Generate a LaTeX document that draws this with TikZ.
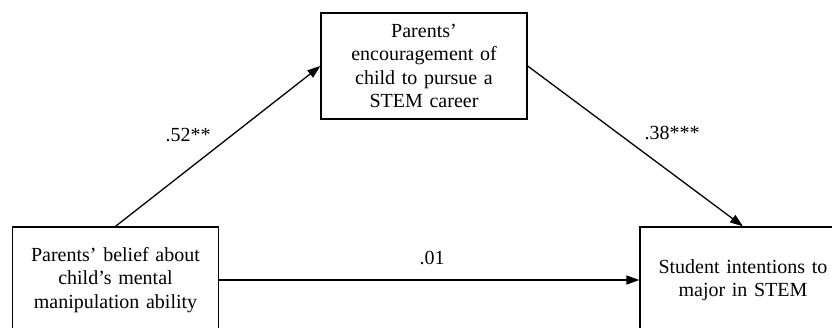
\documentclass[tikz,border=0pt]{standalone}
\usepackage{fontspec}
\setmainfont{Liberation Serif}
\usetikzlibrary{arrows.meta}

\begin{document}
\begin{tikzpicture}[x=1pt,y=-1pt,
  varbox/.style={draw,line width=1.3pt,minimum width=206pt,minimum height=106pt,
    text width=196pt,align=center,inner sep=0pt,font=\fontsize{20}{23.6}\selectfont},
  path/.style={line width=1.3pt,-{Triangle[length=13pt,width=9pt]}},
  coef/.style={font=\fontsize{20}{23.6}\selectfont,inner sep=0pt}]
  \useasboundingbox (0,0) rectangle (832,327);
  % Variablen: Praediktor links, Mediator oben, Kriterium rechts
  \node[varbox] (belief) at (115.5,280) {Parents' belief about\\child's mental\\manipulation ability};
  \node[varbox] (encour) at (424,66) {Parents'\\encouragement of\\child to pursue a\\STEM career};
  \node[varbox] (intent) at (743,280) {Student intentions to\\major in STEM};
  % Pfade
  \draw[path] (belief.north) -- (encour.west);
  \draw[path] (encour.east) -- (intent.north);
  \draw[path] (belief.east) -- (intent.west);
  % Koeffizienten
  \node[coef] (coefa) at (188,135) {.52**};
  \node[coef] (coefb) at (672,133) {.38***};
  \node[coef] (coefc) at (432,258) {.01};
\end{tikzpicture}
\end{document}
